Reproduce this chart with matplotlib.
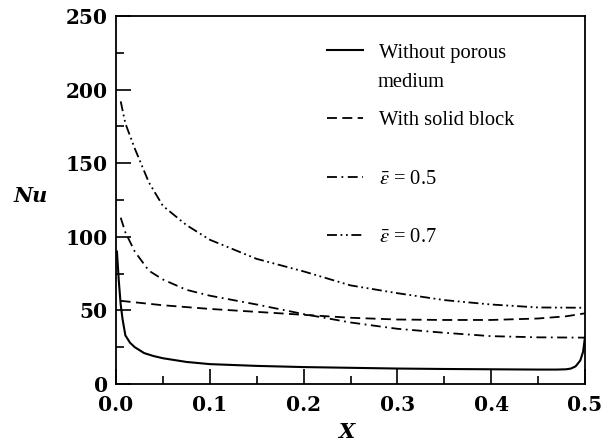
import matplotlib
matplotlib.use("Agg")
import matplotlib.pyplot as plt
from matplotlib.ticker import MultipleLocator, FormatStrFormatter

# ---- data ----
x_without = [0.001, 0.003, 0.005, 0.007, 0.01, 0.015, 0.02, 0.03, 0.04, 0.05,
             0.075, 0.1, 0.15, 0.2, 0.25, 0.3, 0.35, 0.4, 0.45, 0.47, 0.48,
             0.485, 0.49, 0.495, 0.498, 0.5]
nu_without = [90, 70, 54, 44, 33, 28, 25, 21, 19, 17.5,
              15, 13.5, 12.3, 11.5, 11, 10.5, 10.2, 10, 9.8, 9.8, 10,
              10.5, 12, 16, 22, 32]

x_solid = [0.005, 0.02, 0.05, 0.1, 0.15, 0.2, 0.25, 0.3, 0.35, 0.4, 0.45, 0.48, 0.5]
nu_solid = [56.5, 55.5, 53.5, 51, 49, 47, 45, 43.8, 43.5, 43.5, 44.5, 46, 48]

x_eps05 = [0.005, 0.01, 0.02, 0.035, 0.05, 0.075, 0.1, 0.15, 0.2, 0.25,
           0.3, 0.35, 0.4, 0.45, 0.5]
nu_eps05 = [113, 103, 90, 77, 71, 64, 60, 54, 47.5, 41.8,
            37.5, 34.8, 32.5, 31.7, 31.5]

x_eps07 = [0.005, 0.01, 0.02, 0.035, 0.05, 0.075, 0.1, 0.15, 0.2, 0.25,
           0.3, 0.35, 0.4, 0.45, 0.5]
nu_eps07 = [192, 177, 160, 137, 121, 108, 98, 85, 76.5, 67,
            61.7, 57, 54, 52, 51.8]

labels = ["Without porous", "With solid block",
          r"$\bar{\varepsilon}$ = 0.5", r"$\bar{\varepsilon}$ = 0.7"]
label_cont = "medium"
xticks = [0.0, 0.1, 0.2, 0.3, 0.4, 0.5]
yticks = [0, 50, 100, 150, 200, 250]

plt.rcParams['mathtext.fontset'] = 'stix'

fig = plt.figure(figsize=(6.13, 4.45), dpi=100)
ax = fig.add_axes([116/613, 61/445, 469/613, 368/445])

lw = 1.3
l1, = ax.plot(x_without, nu_without, color='black', lw=1.5, ls='-')
l2, = ax.plot(x_solid, nu_solid, color='black', lw=lw, ls=(0, (5.5, 3)))
l3, = ax.plot(x_eps05, nu_eps05, color='black', lw=lw, ls=(0, (5.5, 2.5, 1, 2.5)))
l4, = ax.plot(x_eps07, nu_eps07, color='black', lw=lw,
              ls=(0, (5.5, 2, 1, 2, 1, 2)))

ax.set_xlim(0, 0.5)
ax.set_ylim(0, 250)
ax.set_xticks(xticks)
ax.set_yticks(yticks)
ax.xaxis.set_minor_locator(MultipleLocator(0.05))
ax.yaxis.set_minor_locator(MultipleLocator(25))
ax.xaxis.set_major_formatter(FormatStrFormatter('%.1f'))

ax.tick_params(which='both', direction='in', top=False, right=False, width=1.2)
ax.tick_params(which='major', length=11)
ax.tick_params(which='minor', length=6)
ax.tick_params(axis='y', pad=6)
ax.tick_params(axis='x', pad=8)
for lab in ax.get_xticklabels() + ax.get_yticklabels():
    lab.set_fontfamily('DejaVu Serif')
    lab.set_fontweight('bold')
    lab.set_fontsize(14.5)

for sp in ax.spines.values():
    sp.set_linewidth(1.3)

ax.set_ylabel('Nu', family='DejaVu Serif', weight='bold', style='italic',
              fontsize=15, rotation=0, ha='center', va='center')
ax.yaxis.set_label_coords(-0.181, 0.51)
ax.set_xlabel('X', family='DejaVu Serif', weight='bold', style='italic',
              fontsize=15, ha='center', va='center')
ax.xaxis.set_label_coords(0.49, -0.13)

# legend: one entry per row, placed like the reference
legfont = {'family': 'Liberation Serif', 'size': 14.8}
rows_y = [0.8995, 0.717, 0.557, 0.399]
handles = [l1, l2, l3, l4]
legs = []
for h, lab, yy in zip(handles, labels, rows_y):
    lg = ax.legend([h], [lab], loc='center left', bbox_to_anchor=(0.45, yy),
                   frameon=False, prop=legfont, handlelength=1.73,
                   handletextpad=0.78, borderpad=0, borderaxespad=0)
    legs.append(lg)
for lg in legs[:-1]:
    ax.add_artist(lg)
ax.text(0.5586, 0.818, label_cont, transform=ax.transAxes, ha='left',
        va='center', **legfont)

fig.savefig('out.png', dpi=100)
